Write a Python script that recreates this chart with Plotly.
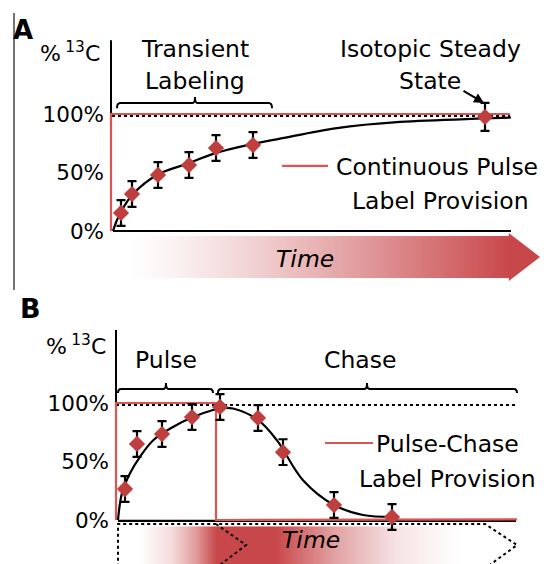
import numpy as np
import plotly.graph_objects as go

W, H = 549, 564

# ---------------- Panel A : continuous pulse labelling ----------------
a_t = [2.25, 5, 11.5, 19.25, 26, 35.25, 93.25]
a_pct = [15.4, 31.6, 47.9, 56.4, 70.9, 73.5, 97.5]
a_err = [11, 11, 11, 11, 11, 11, 12]
a_fit_t = [0.25, 1.25, 2.5, 5.25, 11.25, 18.75, 26.25, 35.25, 42, 56.25, 72, 92.75, 99.75]
a_fit_pct = [0, 9.4, 18, 31.6, 47.9, 57.5, 67, 74.5, 79, 88, 93.2, 96.2, 97]
a_label_t = [-0.25, -0.25, 99.5]
a_label_pct = [0, 100, 100]

# ---------------- Panel B : pulse-chase labelling ----------------
b_t = [2.25, 5.25, 11.5, 19, 26, 35.5, 41.75, 54.5, 69]
b_pct = [26.5, 65, 73.5, 88, 96.6, 87.2, 58, 12.8, 2.6]
b_err = [11, 11, 11, 11, 11, 11, 11, 11, 11]
b_fit_t = [0.5, 1.5, 3.5, 6, 9.25, 14.25, 19.25, 24.25, 26.5, 29.25, 35.5, 40.25, 46.75, 54.5, 61.75, 69]
b_fit_pct = [0, 23, 40, 54, 68, 79.5, 88, 94, 95.7, 95.3, 85.5, 68, 34, 12.8, 4.3, 2.6]
b_label_t = [0, 0, 25, 25, 100.25]
b_label_pct = [0, 100, 100, 0, 0.5]

tick_vals = [0, 50, 100]
tick_text = ["0%", "50%", "100%"]

FONT = "DejaVu Sans"
RED_LINE = "#dd5553"
RED_MARK = "#bf3f3f"
RED_FILL = "#c8474a"
TXT = 23.5


def px(x):
    return x / W


def py(y):
    return 1 - y / H


fig = go.Figure()

# gradient arrows (heatmaps)
ga_edges = np.linspace(0, 99.25, 161)
ga_mid = (ga_edges[:-1] + ga_edges[1:]) / 2
ga_int = np.clip((ga_mid - 4) / 95.25, 0, 1) ** 1.25
fig.add_trace(go.Heatmap(x=ga_edges, y=[-40.2, -4.3], z=[ga_int], xaxis="x", yaxis="y",
                         colorscale=[[0, "#ffffff"], [1, RED_FILL]], zmin=0, zmax=1,
                         showscale=False, hoverinfo="skip"))

gb_edges = np.linspace(0.5, 100, 201)
gb_mid = (gb_edges[:-1] + gb_edges[1:]) / 2
gb_int = np.interp(gb_mid, [0, 6, 14, 20, 25, 40, 55, 70, 86], [0, 0, 0.2, 0.55, 1, 1, 0.5, 0.15, 0])
fig.add_trace(go.Heatmap(x=gb_edges, y=[-40, -5.5], z=[gb_int], xaxis="x2", yaxis="y2",
                         colorscale=[[0, "#ffffff"], [1, RED_FILL]], zmin=0, zmax=1,
                         showscale=False, hoverinfo="skip"))

# dotted 100% reference lines
fig.add_trace(go.Scatter(x=[0, 99.5], y=[98.2, 98.2], mode="lines", xaxis="x", yaxis="y",
                         line=dict(color="black", width=2, dash="dot"), hoverinfo="skip"))
fig.add_trace(go.Scatter(x=[0, 100.25], y=[98.2, 98.2], mode="lines", xaxis="x2", yaxis="y2",
                         line=dict(color="black", width=2, dash="dot"), hoverinfo="skip"))

# label provision (red)
fig.add_trace(go.Scatter(x=a_label_t, y=a_label_pct, mode="lines", xaxis="x", yaxis="y",
                         line=dict(color=RED_LINE, width=2.2), hoverinfo="skip"))
fig.add_trace(go.Scatter(x=b_label_t, y=b_label_pct, mode="lines", xaxis="x2", yaxis="y2",
                         line=dict(color=RED_LINE, width=2.2), hoverinfo="skip"))

# fitted curves
fig.add_trace(go.Scatter(x=a_fit_t, y=a_fit_pct, mode="lines", xaxis="x", yaxis="y",
                         line=dict(color="black", width=2.2, shape="spline", smoothing=1.0),
                         hoverinfo="skip"))
fig.add_trace(go.Scatter(x=b_fit_t, y=b_fit_pct, mode="lines", xaxis="x2", yaxis="y2",
                         line=dict(color="black", width=2.2, shape="spline", smoothing=1.0),
                         hoverinfo="skip"))

# measured points
for xs, ys, es, xa, ya in [(a_t, a_pct, a_err, "x", "y"), (b_t, b_pct, b_err, "x2", "y2")]:
    fig.add_trace(go.Scatter(x=xs, y=ys, mode="markers", xaxis=xa, yaxis=ya,
                             marker=dict(symbol="diamond", size=12.5, color=RED_MARK),
                             error_y=dict(type="data", array=es, color="black",
                                          thickness=2.2, width=4.5)))

shapes = []
# Panel A axes
shapes.append(dict(type="line", xref="x", yref="y", x0=-0.25, x1=-0.25, y0=0, y1=163,
                   line=dict(color="black", width=2), layer="below"))
shapes.append(dict(type="line", xref="x", yref="y", x0=0.25, x1=99.75, y0=0, y1=0,
                   line=dict(color="black", width=2.2), layer="below"))
# Panel B axes
shapes.append(dict(type="line", xref="x2", yref="y2", x0=0, x1=0, y0=0, y1=162.4,
                   line=dict(color="black", width=2), layer="below"))
shapes.append(dict(type="line", xref="x2", yref="y2", x0=0.5, x1=100, y0=-0.8, y1=-0.8,
                   line=dict(color="black", width=2.2), layer="below"))


def brace(xr, yr, x0, x1, xc, yb, yh, yt):
    path = (f"M{x0},{yh} Q{x0},{yb} {x0 + 0.8},{yb} L{xc - 0.6},{yb} Q{xc},{yb} {xc},{yt} "
            f"Q{xc},{yb} {xc + 0.6},{yb} L{x1 - 0.8},{yb} Q{x1},{yb} {x1},{yh}")
    return dict(type="path", xref=xr, yref=yr, path=path, line=dict(color="black", width=2))


shapes.append(brace("x", "y", 1.25, 40, 20.75, 109.4, 105, 114.5))
shapes.append(brace("x2", "y2", 0.5, 24.25, 12.5, 112, 108.5, 117))
shapes.append(brace("x2", "y2", 25.5, 100.25, 62.75, 112, 108.5, 117))

# arrow tip panel A
shapes.append(dict(type="path", xref="x", yref="y",
                   path="M99.2,-1.7 L107,-22.2 L99.2,-42.7 Z",
                   fillcolor=RED_FILL, line=dict(width=0)))
# dotted outlines panel B
shapes.append(dict(type="path", xref="x2", yref="y2",
                   path="M0.5,-40 L0.5,-3.4 L92.25,-3.4 L100.25,-21.4 L92.25,-41.4",
                   line=dict(color="black", width=2, dash="dot"), layer="above"))
shapes.append(dict(type="path", xref="x2", yref="y2",
                   path="M25,-3.4 L32.5,-21.4 L25,-41",
                   line=dict(color="black", width=2, dash="dot"), layer="above"))
# legend keys
shapes.append(dict(type="line", xref="x", yref="y", x0=42.5, x1=54, y0=55.6, y1=55.6,
                   line=dict(color=RED_LINE, width=2.2)))
shapes.append(dict(type="line", xref="x2", yref="y2", x0=52.25, x1=64.25, y0=65.8, y1=65.8,
                   line=dict(color=RED_LINE, width=2.2)))
# separator line
shapes.append(dict(type="line", xref="paper", yref="paper", x0=px(14), x1=px(14),
                   y0=py(13), y1=py(290), line=dict(color="#444444", width=1.5)))

ann = []


def text(t, x, y, size=TXT, bold=False, italic=False, anchor="center"):
    s = t
    if bold:
        s = f"<b>{s}</b>"
    if italic:
        s = f"<i>{s}</i>"
    ann.append(dict(text=s, x=px(x), y=py(y), xref="paper", yref="paper",
                    xanchor=anchor, yanchor="middle", showarrow=False,
                    font=dict(family=FONT, size=size, color="black")))


text("A", 23, 30, 26, bold=True)
text("%\u2009<sup>13</sup>C", 102, 52, 22, anchor="right")
text("Transient", 195, 49)
text("Labeling", 195, 81)
text("Isotopic Steady", 430, 49)
text("State", 430, 81)
text("Continuous Pulse", 437, 167)
text("Label Provision", 440, 201)
text("Time", 305, 259, italic=True)

text("B", 30, 308, 27, bold=True)
text("%\u2009<sup>13</sup>C", 108, 345, 22, anchor="right")
text("Pulse", 166, 360)
text("Chase", 360, 360)
text("Pulse-Chase", 447, 444)
text("Label Provision", 447, 479)
text("Time", 311, 540, italic=True)

ann.append(dict(text="", x=93, y=109.4, ax=87.5, ay=120.5, xref="x", yref="y",
                axref="x", ayref="y", showarrow=True, arrowhead=2, arrowsize=1,
                arrowwidth=2, arrowcolor="black"))

axis_common = dict(showgrid=False, zeroline=False, showline=False, fixedrange=True)
fig.update_layout(
    width=W, height=H, margin=dict(l=0, r=0, t=0, b=0),
    paper_bgcolor="white", plot_bgcolor="white", showlegend=False,
    xaxis=dict(domain=[px(105), 1], range=[-1.75, 109.25], showticklabels=False,
               anchor="y", **axis_common),
    yaxis=dict(domain=[py(285), py(30)], range=[(231 - 285) / 1.17, (231 - 30) / 1.17],
               tickvals=tick_vals, ticktext=tick_text, ticks="", anchor="x",
               tickfont=dict(family=FONT, size=21.5, color="black"), **axis_common),
    xaxis2=dict(domain=[px(110), 1], range=[-1.5, 108.25], showticklabels=False,
                anchor="y2", **axis_common),
    yaxis2=dict(domain=[0, py(295)], range=[(520 - 564) / 1.17, (520 - 295) / 1.17],
                tickvals=tick_vals, ticktext=tick_text, ticks="", anchor="x2",
                tickfont=dict(family=FONT, size=21.5, color="black"), **axis_common),
    shapes=shapes, annotations=ann,
)

fig.write_html("out.html")
